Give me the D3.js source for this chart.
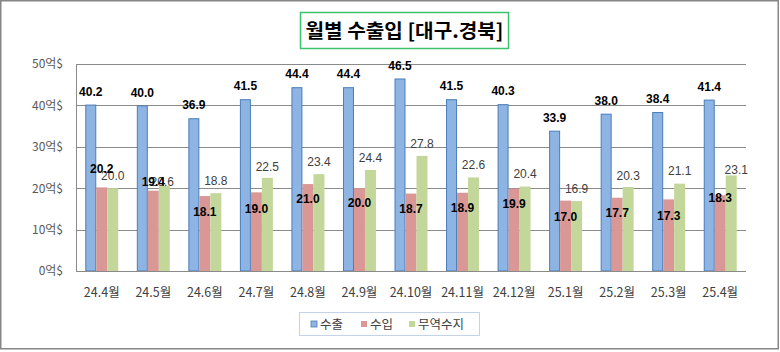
<!DOCTYPE html>
<html><head><meta charset="utf-8">
<script src="https://cdn.jsdelivr.net/npm/d3@7"></script>
<style>html,body{margin:0;padding:0;background:#fff}svg{display:block}</style>
</head><body>
<svg id="chart" width="780" height="352"></svg>
<script>
// ---- data ----
const categories = ["24.4월","24.5월","24.6월","24.7월","24.8월","24.9월","24.10월","24.11월","24.12월","25.1월","25.2월","25.3월","25.4월"];
const seriesNames = ["수출","수입","무역수지"];
const exportsVals = [40.2,40.0,36.9,41.5,44.4,44.4,46.5,41.5,40.3,33.9,38.0,38.4,41.4];
const importsVals = [20.2,19.4,18.1,19.0,21.0,20.0,18.7,18.9,19.9,17.0,17.7,17.3,18.3];
const balanceVals = [20.0,20.6,18.8,22.5,23.4,24.4,27.8,22.6,20.4,16.9,20.3,21.1,23.1];
const yTicks = [0,10,20,30,40,50];
const titleText = "월별 수출입 [대구.경북]";

// label offsets (px, from bar top to label centre) as placed in the original
const importLabelDy = [-19,-8.5,16,16,15,15,15,15.5,15.5,16,15.5,16.5,3];
const balanceLabelDy = [-12,-4,-12.5,-11,-12.5,-12.5,-12.5,-13,-12.5,-12.3,-11.3,-12.6,-5.5];
const balanceLabelDx = [0,-2,0,0,0,0,0,0,0,0,0,0,5];

const colors = {"수출":"#8eb4e3","수입":"#d99795","무역수지":"#c4d79b"};
const strokes = {"수출":"#4a7ebb","수입":"none","무역수지":"none"};

const svg = d3.select("#chart");
const pL=76, pR=746, pT=64, pB=271;

// frame
svg.append("rect").attr("x",0.75).attr("y",0.75).attr("width",777.5).attr("height",348)
  .attr("fill","#fff").attr("stroke","#868686").attr("stroke-width",1.5);

// title
svg.append("rect").attr("x",300.5).attr("y",12.5).attr("width",208).attr("height",36)
  .attr("fill","#fff").attr("stroke","#3cc46c").attr("stroke-width",1.5);
svg.append("text").attr("x",404.5).attr("y",37.5).attr("text-anchor","middle")
  .attr("font-family","'Noto Sans CJK KR', sans-serif").attr("font-weight","bold")
  .attr("font-size",19).attr("fill","#000")
  .attr("textLength",198).attr("lengthAdjust","spacingAndGlyphs")
  .text(titleText);

const x0 = d3.scaleBand().domain(categories).range([pL,pR]).paddingInner(0.36).paddingOuter(0.18);
const x1 = d3.scaleBand().domain(seriesNames).range([0,x0.bandwidth()]);
const y = d3.scaleLinear().domain([0,50]).range([pB,pT]);

// gridlines
svg.append("g").selectAll("line").data(yTicks).join("line")
  .attr("x1",pL).attr("x2",pR).attr("y1",d=>Math.round(y(d))+0.5).attr("y2",d=>Math.round(y(d))+0.5)
  .attr("stroke","#8a8a8a").attr("stroke-width",1);
// left axis line
svg.append("line").attr("x1",pL+0.5).attr("x2",pL+0.5).attr("y1",pT).attr("y2",pB+0.5)
  .attr("stroke","#8a8a8a");

// y tick labels
svg.append("g").selectAll("text").data(yTicks).join("text")
  .attr("x",63).attr("y",d=>y(d)).attr("dy","0.36em").attr("text-anchor","end")
  .attr("font-family","'Noto Sans CJK KR', sans-serif").attr("font-size",12).attr("fill","#595959")
  .text(d=>d+"억$");

// x labels
svg.append("g").selectAll("text").data(categories).join("text")
  .attr("x",d=>x0(d)+x0.bandwidth()/2).attr("y",296.5).attr("text-anchor","middle")
  .attr("font-family","'Noto Sans CJK KR', sans-serif").attr("font-size",12.5).attr("fill","#404040")
  .text(d=>d);

// bars
const rows = categories.map((c,i)=>({cat:c,i,vals:[
  {s:"수출",v:exportsVals[i]},{s:"수입",v:importsVals[i]},{s:"무역수지",v:balanceVals[i]}]}));
const g = svg.append("g").selectAll("g").data(rows).join("g").attr("transform",d=>`translate(${x0(d.cat)},0)`);
g.selectAll("rect").data(d=>d.vals).join("rect")
  .attr("x",d=>x1(d.s)+(d.s==="수출"?0.5:0)).attr("y",d=>y(d.v)+(d.s==="수출"?0.5:0))
  .attr("width",d=>x1.bandwidth()-(d.s==="수출"?1:0)).attr("height",d=>pB-y(d.v)-(d.s==="수출"?0.5:0))
  .attr("fill",d=>colors[d.s]).attr("stroke",d=>strokes[d.s]).attr("stroke-width",1);

// bottom axis line
svg.append("line").attr("x1",pL).attr("x2",pR).attr("y1",pB+0.5).attr("y2",pB+0.5).attr("stroke","#8a8a8a");

// value labels
const lab = svg.append("g").attr("font-family","'Liberation Sans', Arial, sans-serif").attr("font-size",12);
lab.selectAll("text.ex").data(rows).join("text").attr("class","ex")
  .attr("x",d=>x0(d.cat)+x1("수출")+x1.bandwidth()/2).attr("y",d=>y(exportsVals[d.i])-13).attr("dy","0.35em")
  .attr("text-anchor","middle").attr("font-weight","bold").attr("fill","#000")
  .text(d=>exportsVals[d.i].toFixed(1));
lab.selectAll("text.bal").data(rows).join("text").attr("class","bal")
  .attr("x",d=>x0(d.cat)+x1("무역수지")+x1.bandwidth()/2+balanceLabelDx[d.i]).attr("y",d=>y(balanceVals[d.i])+balanceLabelDy[d.i]).attr("dy","0.35em")
  .attr("text-anchor","middle").attr("fill","#404040")
  .text(d=>balanceVals[d.i].toFixed(1));
lab.selectAll("text.im").data(rows).join("text").attr("class","im")
  .attr("x",d=>x0(d.cat)+x1("수입")+x1.bandwidth()/2).attr("y",d=>y(importsVals[d.i])+importLabelDy[d.i]).attr("dy","0.35em")
  .attr("text-anchor","middle").attr("font-weight","bold").attr("fill","#000")
  .text(d=>importsVals[d.i].toFixed(1));

// legend
const lg = svg.append("g");
lg.append("rect").attr("x",299.5).attr("y",312.5).attr("width",180).attr("height",23)
  .attr("fill","#fff").attr("stroke","#c5d3e8").attr("stroke-width",1);
const legX = [311,361,409];
seriesNames.forEach((s,i)=>{
  lg.append("rect").attr("x",legX[i]).attr("y",321).attr("width",6).attr("height",6)
    .attr("fill",colors[s]).attr("stroke",s==="수출"?"#4a7ebb":"none").attr("stroke-width",0.8);
  lg.append("text").attr("x",legX[i]+9).attr("y",324).attr("dy","0.36em")
    .attr("font-family","'Noto Sans CJK KR', sans-serif").attr("font-size",12.5).attr("fill","#404040")
    .text(s);
});
</script>
</body></html>
